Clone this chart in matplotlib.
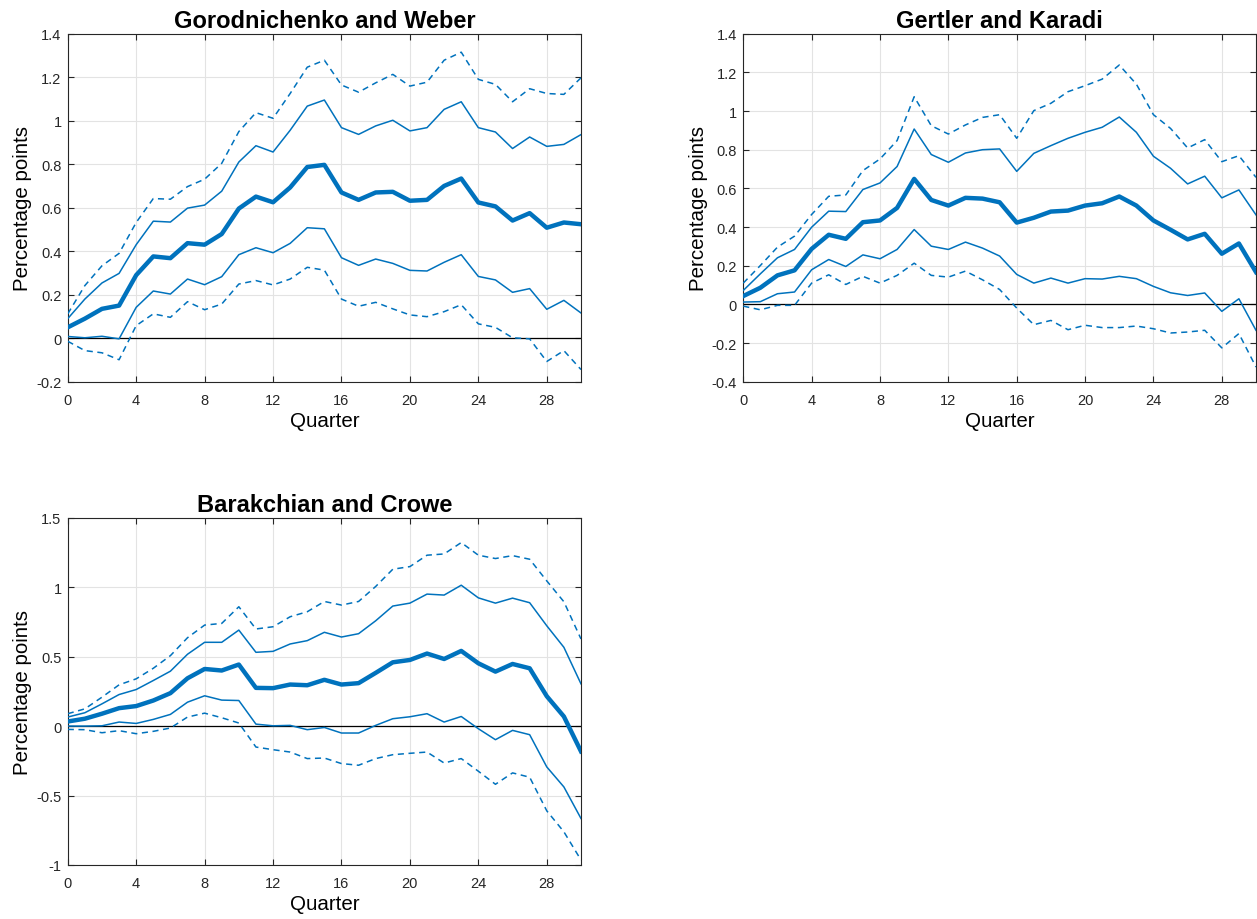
import matplotlib
matplotlib.use("Agg")
import matplotlib.pyplot as plt
import numpy as np
from matplotlib.ticker import FuncFormatter

plt.rcParams['font.family'] = ['Liberation Sans', 'DejaVu Sans']

quarters = np.arange(31)

# Gorodnichenko and Weber
gw_mid = [0.05, 0.09, 0.135, 0.15, 0.29, 0.376, 0.368, 0.437, 0.43, 0.479, 0.596,
          0.651, 0.625, 0.693, 0.787, 0.797, 0.67, 0.636, 0.67, 0.673, 0.632,
          0.636, 0.70, 0.734, 0.624, 0.606, 0.541, 0.575, 0.508, 0.532, 0.524]
gw_hi68 = [0.09, 0.18, 0.254, 0.298, 0.43, 0.538, 0.534, 0.598, 0.612, 0.676, 0.81,
           0.885, 0.856, 0.956, 1.067, 1.095, 0.968, 0.937, 0.976, 1.002, 0.953,
           0.968, 1.052, 1.087, 0.968, 0.948, 0.872, 0.925, 0.882, 0.891, 0.936]
gw_lo68 = [0.008, 0.002, 0.009, -0.003, 0.142, 0.217, 0.203, 0.272, 0.246, 0.283, 0.384,
           0.416, 0.393, 0.436, 0.508, 0.503, 0.37, 0.335, 0.364, 0.344, 0.312,
           0.309, 0.349, 0.384, 0.284, 0.268, 0.211, 0.228, 0.133, 0.174, 0.116]
gw_hi90 = [0.112, 0.242, 0.333, 0.39, 0.532, 0.642, 0.639, 0.697, 0.731, 0.804, 0.95,
           1.037, 1.011, 1.125, 1.246, 1.278, 1.164, 1.131, 1.174, 1.213, 1.159,
           1.177, 1.278, 1.315, 1.19, 1.167, 1.087, 1.147, 1.125, 1.121, 1.197]
gw_lo90 = [-0.014, -0.057, -0.067, -0.099, 0.058, 0.112, 0.096, 0.168, 0.131, 0.157, 0.249,
           0.265, 0.245, 0.272, 0.326, 0.313, 0.18, 0.147, 0.165, 0.135, 0.107,
           0.099, 0.122, 0.154, 0.066, 0.05, 0.002, -0.003, -0.107, -0.057, -0.144]

# Gertler and Karadi
gk_mid = [0.043, 0.086, 0.15, 0.176, 0.287, 0.36, 0.339, 0.425, 0.434, 0.499, 0.649,
          0.54, 0.511, 0.551, 0.547, 0.528, 0.423, 0.448, 0.48, 0.485, 0.511,
          0.523, 0.558, 0.511, 0.434, 0.386, 0.336, 0.365, 0.262, 0.315, 0.167]
gk_hi68 = [0.072, 0.158, 0.241, 0.284, 0.399, 0.482, 0.48, 0.594, 0.628, 0.713, 0.907,
           0.775, 0.735, 0.783, 0.80, 0.804, 0.688, 0.781, 0.821, 0.859, 0.89,
           0.916, 0.969, 0.89, 0.766, 0.704, 0.623, 0.663, 0.551, 0.592, 0.463]
gk_lo68 = [0.012, 0.014, 0.055, 0.064, 0.179, 0.232, 0.196, 0.256, 0.236, 0.284, 0.387,
           0.301, 0.284, 0.322, 0.291, 0.25, 0.155, 0.11, 0.136, 0.11, 0.133,
           0.131, 0.145, 0.133, 0.093, 0.06, 0.046, 0.059, -0.036, 0.029, -0.134]
gk_hi90 = [0.11, 0.201, 0.296, 0.353, 0.465, 0.559, 0.566, 0.692, 0.752, 0.847, 1.074,
           0.924, 0.881, 0.928, 0.967, 0.981, 0.859, 1.002, 1.04, 1.10, 1.131,
           1.165, 1.238, 1.139, 0.981, 0.91, 0.809, 0.852, 0.738, 0.769, 0.657]
gk_lo90 = [-0.009, -0.028, -0.005, -0.005, 0.11, 0.153, 0.103, 0.145, 0.11, 0.15, 0.213,
           0.15, 0.141, 0.172, 0.127, 0.077, -0.019, -0.105, -0.083, -0.131, -0.108,
           -0.12, -0.12, -0.112, -0.126, -0.148, -0.143, -0.134, -0.225, -0.151, -0.324]

# Barakchian and Crowe
bc_mid = [0.033, 0.053, 0.089, 0.129, 0.144, 0.184, 0.237, 0.344, 0.411, 0.40, 0.443,
          0.275, 0.273, 0.299, 0.294, 0.333, 0.299, 0.309, 0.383, 0.459, 0.476,
          0.522, 0.483, 0.541, 0.452, 0.392, 0.447, 0.416, 0.215, 0.069, -0.182]
bc_hi68 = [0.065, 0.096, 0.16, 0.227, 0.263, 0.328, 0.395, 0.517, 0.603, 0.603, 0.691,
           0.531, 0.538, 0.591, 0.615, 0.675, 0.641, 0.665, 0.758, 0.864, 0.885,
           0.95, 0.943, 1.014, 0.923, 0.885, 0.921, 0.888, 0.722, 0.567, 0.304]
bc_lo68 = [0.0, 0.0, 0.002, 0.029, 0.019, 0.048, 0.084, 0.172, 0.218, 0.187, 0.184,
           0.014, 0.002, 0.005, -0.026, -0.01, -0.05, -0.05, 0.005, 0.053, 0.067,
           0.089, 0.029, 0.069, -0.019, -0.098, -0.031, -0.062, -0.294, -0.438, -0.665]
bc_hi90 = [0.089, 0.124, 0.208, 0.297, 0.34, 0.416, 0.507, 0.636, 0.727, 0.739, 0.859,
           0.699, 0.715, 0.787, 0.823, 0.897, 0.871, 0.897, 1.005, 1.129, 1.148,
           1.23, 1.239, 1.321, 1.23, 1.206, 1.227, 1.201, 1.045, 0.895, 0.627]
bc_lo90 = [-0.024, -0.026, -0.048, -0.033, -0.055, -0.038, -0.014, 0.065, 0.093, 0.06, 0.022,
           -0.151, -0.17, -0.187, -0.234, -0.23, -0.27, -0.282, -0.234, -0.206, -0.196,
           -0.187, -0.266, -0.234, -0.325, -0.419, -0.337, -0.368, -0.61, -0.761, -0.964]

titles = ["Gorodnichenko and Weber", "Gertler and Karadi", "Barakchian and Crowe"]
ylims = [(-0.2, 1.4), (-0.4, 1.4), (-1.0, 1.5)]
ysteps = [0.2, 0.2, 0.5]

blue = '#0072BD'

fig = plt.figure(figsize=(12.57, 9.2), dpi=100)
# axes positions in figure fractions (left, bottom, width, height)
boxes = [(0.0539, 0.584, 0.4083, 0.3783),
         (0.5913, 0.584, 0.4079, 0.3783),
         (0.0539, 0.0587, 0.4083, 0.3775)]

panels = [(gw_mid, gw_hi68, gw_lo68, gw_hi90, gw_lo90),
          (gk_mid, gk_hi68, gk_lo68, gk_hi90, gk_lo90),
          (bc_mid, bc_hi68, bc_lo68, bc_hi90, bc_lo90)]

fmt = FuncFormatter(lambda v, p: "%g" % round(v, 6))

for i, (mid, hi68, lo68, hi90, lo90) in enumerate(panels):
    ax = fig.add_axes(boxes[i])
    ax.grid(True, color='#e3e3e3', linewidth=0.8)
    ax.set_axisbelow(True)
    ax.axhline(0, color='black', linewidth=0.9, zorder=2)
    ax.plot(quarters, hi90, '--', color=blue, linewidth=1.1, dashes=(4, 3), zorder=3)
    ax.plot(quarters, lo90, '--', color=blue, linewidth=1.1, dashes=(4, 3), zorder=3)
    ax.plot(quarters, hi68, '-', color=blue, linewidth=1.1, zorder=3)
    ax.plot(quarters, lo68, '-', color=blue, linewidth=1.1, zorder=3)
    ax.plot(quarters, mid, '-', color=blue, linewidth=3.2, zorder=4)

    lo, hi = ylims[i]
    ax.set_xlim(0, 30)
    ax.set_ylim(lo, hi)
    ax.set_xticks(np.arange(0, 29, 4))
    ax.set_yticks(np.arange(lo, hi + 1e-9, ysteps[i]))
    ax.yaxis.set_major_formatter(fmt)
    ax.tick_params(direction='in', length=4, width=0.8, labelsize=10.5,
                   top=True, right=True, colors='#262626')
    ax.tick_params(axis='x', pad=8)
    ax.tick_params(axis='y', pad=4.5)
    for s in ax.spines.values():
        s.set_color('#262626')
        s.set_linewidth(0.8)
    ax.set_title(titles[i], fontsize=17, fontweight='bold', pad=5)
    ax.set_xlabel("Quarter", fontsize=14.8, labelpad=3)
    ax.set_ylabel("Percentage points", fontsize=14.8, labelpad=3)

fig.savefig("out.png", dpi=100)
